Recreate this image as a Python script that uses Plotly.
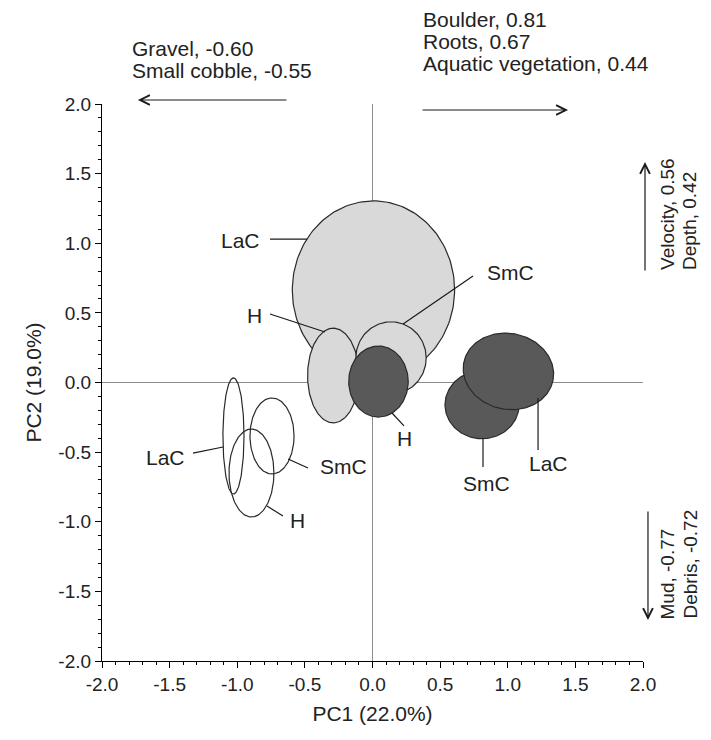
import numpy as np
import plotly.graph_objects as go

# ---------------- data ----------------
# ellipses (PCA group confidence ellipses)
ell_label = ["LaC", "H", "SmC", "H", "SmC", "LaC", "LaC", "SmC", "H"]
ell_style = ["light", "light", "light", "dark", "dark", "dark", "open", "open", "open"]
ell_cx = [0.007, -0.29, 0.137, 0.044, 0.81, 1.005, -1.028, -0.743, -0.895]
ell_cy = [0.664, 0.05, 0.176, 0.007, -0.16, 0.08, -0.384, -0.384, -0.65]
ell_rx = [0.60, 0.19, 0.26, 0.22, 0.274, 0.336, 0.078, 0.163, 0.166]
ell_ry = [0.64, 0.34, 0.26, 0.255, 0.244, 0.273, 0.417, 0.273, 0.316]
ell_angle = [0, 0, 0, 0, 0, -10, 0, 0, 0]

# label text positions and leader lines
lab_x = [-0.82, -0.80, 0.83, 0.24, 0.846, 1.298, -1.37, -0.40, -0.551]
lab_y = [1.023, 0.478, 0.79, -0.40, -0.722, -0.585, -0.536, -0.60, -0.988]
lab_anchor = ["right", "right", "left", "center", "center", "center", "right", "left", "center"]
lead_x0 = [-0.758, -0.758, 0.743, 0.144, 0.817, 1.224, -1.327, -0.624, -0.78]
lead_y0 = [1.030, 0.492, 0.765, -0.219, -0.399, -0.111, -0.507, -0.549, -0.887]
lead_x1 = [-0.484, -0.351, 0.226, 0.233, 0.817, 1.224, -1.105, -0.477, -0.662]
lead_y1 = [1.030, 0.363, 0.420, -0.312, -0.607, -0.485, -0.463, -0.614, -0.959]

# variable loadings shown along the axes
pc1_neg = ["Gravel, -0.60", "Small cobble, -0.55"]
pc1_pos = ["Boulder, 0.81", "Roots, 0.67", "Aquatic vegetation, 0.44"]
pc2_pos = ["Velocity, 0.56", "Depth, 0.42"]
pc2_neg = ["Mud, -0.77", "Debris, -0.72"]

tick_vals = [-2.0, -1.5, -1.0, -0.5, 0.0, 0.5, 1.0, 1.5, 2.0]
x_title = "PC1 (22.0%)"
y_title = "PC2 (19.0%)"

# ---------------- figure ----------------
FONT = "Liberation Sans, Arial, sans-serif"
TXT = "#222222"
FS_TXT = 21
FS_TICK = 19
FS_ROT = 19
fills = {"light": "#d9d9d9", "dark": "#595959", "open": "rgba(0,0,0,0)"}

fig = go.Figure()
t = np.linspace(0, 2 * np.pi, 181)
for i in range(len(ell_cx)):
    a = np.deg2rad(ell_angle[i])
    ex = ell_cx[i] + ell_rx[i] * np.cos(t) * np.cos(a) - ell_ry[i] * np.sin(t) * np.sin(a)
    ey = ell_cy[i] + ell_rx[i] * np.cos(t) * np.sin(a) + ell_ry[i] * np.sin(t) * np.cos(a)
    fig.add_trace(go.Scatter(
        x=ex, y=ey, mode="lines", fill="toself",
        fillcolor=fills[ell_style[i]],
        line=dict(color="#2a2a2a", width=1.2),
        hoverinfo="skip", showlegend=False))

txt_font = dict(family=FONT, size=FS_TXT, color=TXT)
for i in range(len(ell_label)):
    fig.add_trace(go.Scatter(
        x=[lead_x0[i], lead_x1[i]], y=[lead_y0[i], lead_y1[i]], mode="lines",
        line=dict(color="#1a1a1a", width=1.2), hoverinfo="skip", showlegend=False))
    fig.add_annotation(x=lab_x[i], y=lab_y[i], text=ell_label[i], showarrow=False,
                       xanchor=lab_anchor[i], yanchor="middle", font=txt_font)

# PC1 negative loadings (top-left)
for j, s in enumerate(pc1_neg):
    fig.add_annotation(xref="paper", yref="paper", x=0.0518, y=1.1005 - j * 0.0395,
                       text=s, showarrow=False, xanchor="left", yanchor="middle", font=txt_font)
# PC1 positive loadings (top-right)
for j, s in enumerate(pc1_pos):
    fig.add_annotation(xref="paper", yref="paper", x=0.5896, y=1.1526 - j * 0.0395,
                       text=s, showarrow=False, xanchor="left", yanchor="middle", font=txt_font)
# PC2 loadings (right, rotated)
rot_font = dict(family=FONT, size=FS_ROT, color=TXT)
for j, s in enumerate(pc2_pos):
    fig.add_annotation(xref="paper", yref="paper", x=1.0462 + j * 0.0407, y=0.6984,
                       text=s, showarrow=False, textangle=-90,
                       xanchor="center", yanchor="bottom", font=rot_font)
for j, s in enumerate(pc2_neg):
    fig.add_annotation(xref="paper", yref="paper", x=1.0462 + j * 0.0407, y=0.0718,
                       text=s, showarrow=False, textangle=-90,
                       xanchor="center", yanchor="bottom", font=rot_font)

# direction arrows (head in paper coords, tail as pixel offset)
arrow_kw = dict(xref="paper", yref="paper", showarrow=True, arrowhead=5, arrowsize=1.6,
                arrowwidth=1.2, arrowcolor="#1a1a1a", axref="pixel", ayref="pixel",
                text="", standoff=0)
fig.add_annotation(x=0.0665, y=1.0072, ax=150, ay=0, **arrow_kw)
fig.add_annotation(x=0.8614, y=0.9892, ax=-147, ay=0, **arrow_kw)
fig.add_annotation(x=1.0037, y=0.8959, ax=0, ay=110, **arrow_kw)
fig.add_annotation(x=1.0092, y=0.0736, ax=0, ay=-110, **arrow_kw)

axis_common = dict(
    tickmode="array", tickvals=tick_vals, ticktext=[f"{v:.1f}" for v in tick_vals],
    ticks="outside", ticklen=6, tickwidth=1, tickcolor="#000",
    showline=True, linecolor="#000", linewidth=1.2, mirror=False,
    showgrid=False, zeroline=True, zerolinecolor="#8c8c8c", zerolinewidth=1.2,
    minor=dict(dtick=0.1, tick0=0, ticks="outside", ticklen=3, tickcolor="#000", showgrid=False),
    tickfont=dict(family=FONT, size=FS_TICK, color=TXT),
    range=[-2, 2], fixedrange=True,
)
fig.update_xaxes(**axis_common, title=dict(text=x_title, font=txt_font, standoff=12))
fig.update_yaxes(**axis_common, title=dict(text=y_title, font=txt_font, standoff=10))

fig.update_layout(
    width=711, height=740,
    margin=dict(l=102, r=68, t=104, b=79),
    plot_bgcolor="white", paper_bgcolor="white",
    showlegend=False,
)

fig.write_html("out.html")
